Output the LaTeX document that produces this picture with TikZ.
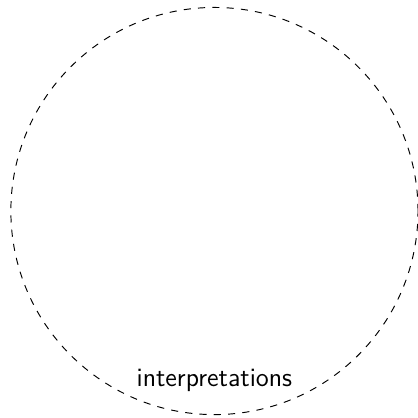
\documentclass[tikz,border=0pt]{standalone}
\usetikzlibrary{positioning}

\begin{document}
\begin{tikzpicture}[
    every node/.style={font=\sffamily\fontsize{11.1}{13}\selectfont},
    regiao/.style={
        draw=black,
        dashed,
        circle,
        minimum size=6cm,
        inner sep=0pt
    }
]

\useasboundingbox (-3.16,-3.05) rectangle (3.0,3.11);

% ============================================================
% CIRCULO
% ============================================================

\node[regiao] (interp) at (0,0) {};

\node[
    above=0.22cm of interp.south
] (rotulo)
{interpretations};

\end{tikzpicture}
\end{document}
